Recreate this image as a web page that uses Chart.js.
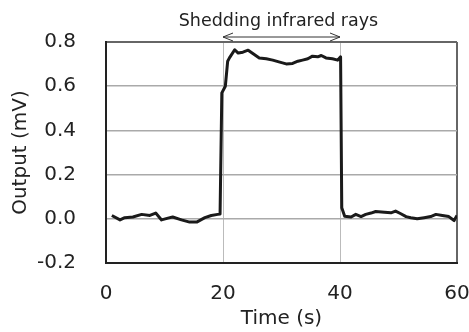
<!DOCTYPE html>
<html>
<head>
<meta charset="utf-8">
<script src="https://cdn.jsdelivr.net/npm/chart.js@4/dist/chart.umd.min.js"></script>
<style>
  html, body { margin: 0; padding: 0; background: #fff; overflow: hidden; }
  #wrap { width: 469px; height: 332px; position: relative; }
</style>
</head>
<body>
<div id="wrap"><canvas id="myChart"></canvas></div>
<script>
// time (s) and output (mV)
const times = [1, 2.4, 3.2, 4.6, 6.1, 7.5, 8.5, 9.5, 10.6, 11.4, 12.9, 14.3, 15.5, 16.9, 18, 19.1, 19.5,
  19.8, 20.4, 20.8, 21.1, 22, 22.6, 23.4, 24.3, 25.1, 26.2, 27.4, 28.5, 29.7, 30.8, 31.9, 32.8, 33.6,
  34.5, 35.3, 36.2, 36.8, 37.6, 38.7, 39.6, 40.1, 40.3, 40.8, 41.9, 42.7, 43.6, 44.4, 45.3, 46.1,
  47.6, 48.7, 49.5, 50.4, 51.3, 52.1, 53.2, 54.4, 55.5, 56.4, 57.5, 58.6, 59.5, 60]
const outputs = [0.015, -0.005, 0.005, 0.008, 0.02, 0.015, 0.026, -0.005, 0.003, 0.008, -0.005, -0.015, -0.015, 0.005, 0.015, 0.02, 0.022,
  0.57, 0.6, 0.713, 0.728, 0.765, 0.75, 0.754, 0.763, 0.748, 0.728, 0.724, 0.718, 0.709, 0.701, 0.703, 0.713, 0.718,
  0.724, 0.736, 0.733, 0.739, 0.728, 0.724, 0.718, 0.733, 0.05, 0.012, 0.008, 0.02, 0.01, 0.02, 0.026, 0.033,
  0.03, 0.027, 0.035, 0.023, 0.01, 0.005, 0, 0.005, 0.01, 0.02, 0.015, 0.01, -0.008, 0.015]
const yTicks = [-0.2, 0, 0.2, 0.4, 0.6, 0.8]
const xTicks = [0, 20, 40, 60]
const shedFrom = 20
const shedTo = 40
const shedLabel = 'Shedding infrared rays'

const font = 'DejaVu Sans'

// double arrow + label above the plot for the shedding period
const arrowPlugin = {
  id: 'shedArrow',
  afterDraw(chart) {
    const ctx = chart.ctx
    const x = chart.scales.x
    const x1 = x.getPixelForValue(shedFrom)
    const x2 = x.getPixelForValue(shedTo)
    const y = chart.chartArea.top - 5
    ctx.save()
    ctx.strokeStyle = '#333'
    ctx.lineWidth = 1
    ctx.beginPath()
    ctx.moveTo(x1, y); ctx.lineTo(x2, y)
    ctx.moveTo(x1 + 10, y - 4); ctx.lineTo(x1, y); ctx.lineTo(x1 + 10, y + 4)
    ctx.moveTo(x2 - 10, y - 4); ctx.lineTo(x2, y); ctx.lineTo(x2 - 10, y + 4)
    ctx.stroke()
    ctx.fillStyle = '#222'
    ctx.font = '17.5px "' + font + '"'
    ctx.textAlign = 'center'
    ctx.textBaseline = 'alphabetic'
    ctx.fillText(shedLabel, (x1 + x2) / 2 - 3, 26)
    ctx.restore()
  }
}

const data = {
  datasets: [{
    label: 'Output',
    data: times.map((t, i) => ({ x: t, y: outputs[i] })),
    borderColor: '#1a1a1a',
    borderWidth: 3,
    pointRadius: 0,
    tension: 0,
    borderJoinStyle: 'round'
  }]
}

const config = {
  type: 'line',
  data,
  options: {
    responsive: true,
    maintainAspectRatio: false,
    animation: false,
    layout: { padding: { top: 42, left: 0, right: 0, bottom: 0 } },
    plugins: { legend: { display: false }, tooltip: { enabled: false } },
    scales: {
      x: {
        type: 'linear',
        min: 0, max: 60,
        afterBuildTicks: s => { s.ticks = xTicks.map(v => ({ value: v })) },
        afterFit: s => { s.height = 69; s.paddingRight = 12; s.paddingLeft = 12 },
        grid: {
          drawTicks: false,
          color: c => c.tick.value === 60 ? '#666' : '#bbb',
          lineWidth: c => c.tick.value === 60 ? 2 : 1
        },
        border: { color: '#222', width: 2 },
        ticks: { padding: 19, color: '#222', font: { family: font, size: 20 } },
        title: { display: true, text: 'Time (s)', color: '#222', font: { family: font, size: 20 }, padding: { top: 0, bottom: 1 } }
      },
      y: {
        min: -0.2, max: 0.8,
        afterBuildTicks: s => { s.ticks = yTicks.map(v => ({ value: v })) },
        afterFit: s => { s.width = 106 },
        grid: {
          drawTicks: false,
          color: c => c.tick.value === 0.8 ? '#666' : '#aaa',
          lineWidth: c => c.tick.value === 0.8 ? 2 : 1.5
        },
        border: { color: '#222', width: 2 },
        ticks: { padding: 30, color: '#222', font: { family: font, size: 20 }, callback: v => v.toFixed(1) },
        title: { display: true, text: 'Output (mV)', color: '#222', font: { family: font, size: 20 }, padding: { top: 9, bottom: 0 } }
      }
    }
  },
  plugins: [arrowPlugin]
}

const myChart = new Chart(document.querySelector('#myChart'), config)
</script>
</body>
</html>
